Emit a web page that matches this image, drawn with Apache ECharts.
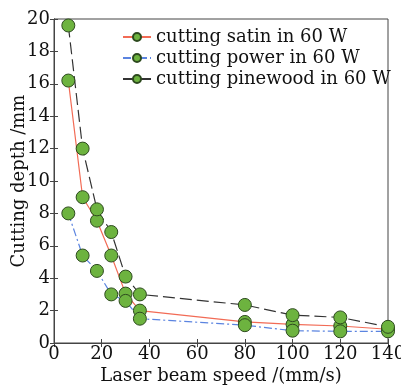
<!DOCTYPE html>
<html>
<head>
<meta charset="utf-8">
<script src="https://cdn.jsdelivr.net/npm/echarts@6/dist/echarts.min.js"></script>
<style>
  html, body { margin: 0; padding: 0; background: #fff; }
  #chart { width: 401px; height: 385px; }
</style>
</head>
<body>
<div id="chart"></div>
<script>
// laser beam speed (mm/s)
const speed = [6, 12, 18, 24, 30, 36, 80, 100, 120, 140]
// cutting depth (mm)
const satin = [16.2, 9.0, 7.55, 5.4, 3.05, 2.0, 1.3, 1.15, 1.05, 0.85]
const power = [8.0, 5.4, 4.45, 3.0, 2.6, 1.5, 1.1, 0.76, 0.72, 0.72]
const pinewood = [19.6, 12.0, 8.25, 6.85, 4.1, 3.0, 2.35, 1.72, 1.58, 1.0]

const seriesNames = ['cutting satin in 60 W', 'cutting power in 60 W', 'cutting pinewood in 60 W']

const font = 'DejaVu Serif'
const axisLabel = { color: '#111', fontFamily: font, fontSize: 18 }
const axisLine = { show: true, lineStyle: { color: '#444', width: 1 } }
const axisTick = { show: true, inside: true, length: 4, lineStyle: { color: '#444' } }

const pairs = arr => speed.map((x, i) => [x, arr[i]])

const marker = {
  symbol: 'circle',
  symbolSize: 13,
  itemStyle: { color: '#6db33f', borderColor: '#2d4a1e', borderWidth: 1 }
}

const option = {
  animation: false,
  grid: {
    left: 54, right: 13, top: 19, bottom: 42,
    outerBoundsMode: 'none',
    containLabel: false,
    show: true, borderColor: '#444', borderWidth: 1
  },
  legend: {
    orient: 'vertical',
    left: 117,
    top: 23,
    itemWidth: 28,
    itemHeight: 10,
    itemGap: 3,
    textStyle: { color: '#111', fontFamily: font, fontSize: 18 },
    data: seriesNames
  },
  xAxis: [{
    type: 'value',
    min: 0,
    max: 140,
    interval: 20,
    name: 'Laser beam speed /(mm/s)',
    nameLocation: 'middle',
    nameGap: 24,
    nameMoveOverlap: false,
    nameTextStyle: { color: '#111', fontFamily: font, fontSize: 18 },
    axisLabel: Object.assign({ margin: 2 }, axisLabel),
    axisLine,
    axisTick,
    splitLine: { show: false }
  }, {
    type: 'value', position: 'top', min: 0, max: 140, interval: 20,
    axisLabel: { show: false }, axisLine, axisTick, splitLine: { show: false }
  }],
  yAxis: [{
    type: 'value',
    min: 0,
    max: 20,
    interval: 2,
    name: 'Cutting depth /mm',
    nameLocation: 'middle',
    nameGap: 26,
    nameMoveOverlap: false,
    nameTextStyle: { color: '#111', fontFamily: font, fontSize: 18 },
    axisLabel: Object.assign({ margin: 4 }, axisLabel),
    axisLine,
    axisTick,
    splitLine: { show: false }
  }, {
    type: 'value', position: 'right', min: 0, max: 20, interval: 2,
    axisLabel: { show: false }, axisLine, axisTick, splitLine: { show: false }
  }],
  series: [
    Object.assign({
      name: seriesNames[0],
      type: 'line',
      data: pairs(satin),
      lineStyle: { color: '#f26b55', width: 1.2, type: 'solid' }
    }, marker),
    Object.assign({
      name: seriesNames[1],
      type: 'line',
      data: pairs(power),
      lineStyle: { color: '#5b84e0', width: 1.2, type: [8, 3, 2, 3] }
    }, marker),
    Object.assign({
      name: seriesNames[2],
      type: 'line',
      data: pairs(pinewood),
      lineStyle: { color: '#333', width: 1.2, type: [12, 5] }
    }, marker)
  ]
}

const myChart = echarts.init(document.getElementById('chart'))
myChart.setOption(option)
</script>
</body>
</html>
